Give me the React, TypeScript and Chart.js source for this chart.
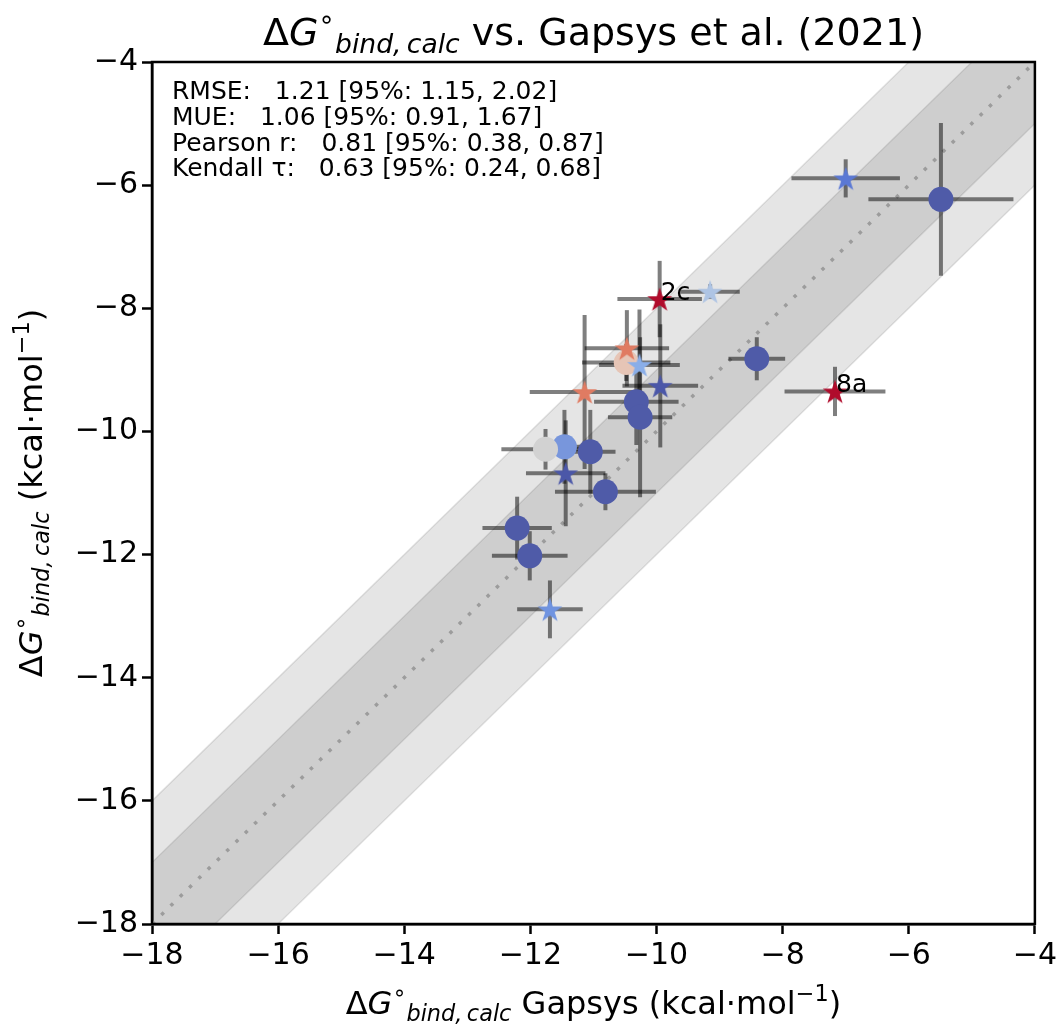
import React, { useEffect, useRef } from "react";
import { Chart, registerables } from "chart.js";

Chart.register(...registerables);

// ---- axis ----
const axisMin = -18;
const axisMax = -4;
const tickValues = [-18, -16, -14, -12, -10, -8, -6, -4];

// ---- ligands drawn as circles ----
const circleX = [-5.49, -8.41, -10.48, -10.32, -10.26, -11.05, -11.46, -11.76, -10.81, -12.21, -12.01];
const circleY = [-6.23, -8.82, -8.88, -9.52, -9.77, -10.33, -10.25, -10.29, -10.98, -11.57, -12.02];
const circleXErr = [1.15, 0.45, 0.7, 0.67, 0.51, 0.4, 0.3, 0.7, 0.8, 0.55, 0.6];
const circleYErr = [1.24, 0.35, 0.3, 0.7, 1.3, 0.68, 0.6, 0.33, 0.3, 0.51, 0.4];
const circleColors = ["#4f5ba8", "#4f5ba8", "#e6c5b6", "#4f5ba8", "#4f5ba8", "#4f5ba8", "#7896dc", "#d2d2d2", "#4f5ba8", "#4f5ba8", "#4f5ba8"];

// ---- ligands drawn as stars ----
const starX = [-7.0, -9.95, -9.15, -10.47, -10.27, -9.94, -11.14, -11.44, -11.69, -7.17];
const starY = [-5.89, -7.85, -7.73, -8.65, -8.92, -9.26, -9.36, -10.68, -12.89, -9.35];
const starXErr = [0.86, 0.67, 0.47, 0.67, 0.64, 0.6, 0.87, 0.63, 0.52, 0.8];
const starYErr = [0.31, 0.62, 0.12, 0.62, 0.9, 1.0, 1.25, 0.86, 0.47, 0.4];
const starColors = ["#5a78d4", "#b00c2c", "#aec4e4", "#e07b62", "#8aaee8", "#4b57a8", "#e07b62", "#4b57a8", "#6f93e0", "#b00c2c"];
const starLabels = ["", "2c", "", "", "", "", "", "", "", "8a"];

// ---- statistics box ----
const statsLines = [
  "RMSE:   1.21 [95%: 1.15, 2.02]",
  "MUE:   1.06 [95%: 0.91, 1.67]",
  "Pearson r:   0.81 [95%: 0.38, 0.87]",
  "Kendall \u03c4:   0.63 [95%: 0.24, 0.68]",
];

const titleRest = " vs. Gapsys et al. (2021)";
const xLabelRest = " Gapsys (kcal\u00b7mol";
const yLabelRest = " (kcal\u00b7mol";

const FONT = '"DejaVu Sans", sans-serif';

type Run = { t: string; s: number; it?: boolean; dy?: number };

function fontOf(r: Run) {
  return `${r.it ? "oblique " : ""}${r.s}px ${FONT}`;
}

function drawRuns(ctx: CanvasRenderingContext2D, runs: Run[], x: number, y: number, align: "left" | "center") {
  let w = 0;
  for (const r of runs) {
    ctx.font = fontOf(r);
    w += ctx.measureText(r.t).width;
  }
  let cx = align === "center" ? x - w / 2 : x;
  ctx.textAlign = "left";
  ctx.textBaseline = "alphabetic";
  for (const r of runs) {
    ctx.font = fontOf(r);
    ctx.fillText(r.t, cx, y + (r.dy || 0));
    cx += ctx.measureText(r.t).width;
  }
}

function deltaG(S: number): Run[] {
  return [
    { t: "\u0394", s: S },
    { t: "G", s: S, it: true },
    { t: "\u2218", s: S * 0.7, dy: -S * 0.45 },
    { t: "bind,\u2009calc", s: S * 0.7, it: true, dy: S * 0.22 },
  ];
}

function unitTail(S: number): Run[] {
  return [
    { t: "\u22121", s: S * 0.7, dy: -S * 0.42 },
    { t: ")", s: S },
  ];
}

function makeStar(color: string, R: number): HTMLCanvasElement {
  const size = Math.ceil(R * 2 + 4);
  const c = document.createElement("canvas");
  c.width = size;
  c.height = size;
  const g = c.getContext("2d")!;
  const cx = size / 2;
  const cy = size / 2 + R * 0.1;
  const r = R * 0.381966;
  g.beginPath();
  for (let i = 0; i < 10; i++) {
    const rad = i % 2 === 0 ? R : r;
    const a = -Math.PI / 2 + (i * Math.PI) / 5;
    const px = cx + rad * Math.cos(a);
    const py = cy + rad * Math.sin(a);
    if (i === 0) g.moveTo(px, py);
    else g.lineTo(px, py);
  }
  g.closePath();
  g.fillStyle = color;
  g.fill();
  return c;
}

const fmtTick = (v: number) => (v < 0 ? "\u2212" + Math.abs(v) : String(v));

export default function App() {
  const ref = useRef<HTMLCanvasElement | null>(null);

  useEffect(() => {
    document.body.style.margin = "0";
    const canvas = ref.current!;
    const starImgs = starColors.map((c) => makeStar(c, 13));

    const band = (d: number) => [
      { x: axisMin, y: axisMin + d },
      { x: axisMax, y: axisMax + d },
    ];

    const CIRCLES = 5;

    const errorBars = {
      id: "errorBars",
      beforeDatasetDraw(chart: any, args: any) {
        if (args.index !== CIRCLES) return;
        const { ctx } = chart;
        const xs = chart.scales.x;
        const ys = chart.scales.y;
        ctx.save();
        ctx.strokeStyle = "rgba(0,0,0,0.5)";
        ctx.lineWidth = 4;
        ctx.lineCap = "butt";
        const seg = (x1: number, y1: number, x2: number, y2: number) => {
          ctx.beginPath();
          ctx.moveTo(xs.getPixelForValue(x1), ys.getPixelForValue(y1));
          ctx.lineTo(xs.getPixelForValue(x2), ys.getPixelForValue(y2));
          ctx.stroke();
        };
        const all = [
          [circleX, circleY, circleXErr, circleYErr],
          [starX, starY, starXErr, starYErr],
        ];
        for (const [X, Y, XE, YE] of all) {
          for (let i = 0; i < X.length; i++) {
            seg(X[i] - XE[i], Y[i], X[i] + XE[i], Y[i]);
            seg(X[i], Y[i] - YE[i], X[i], Y[i] + YE[i]);
          }
        }
        ctx.restore();
      },
    };

    const decorations = {
      id: "decorations",
      afterDraw(chart: any) {
        const { ctx, chartArea: a } = chart;
        const xs = chart.scales.x;
        const ys = chart.scales.y;
        ctx.save();
        // axes frame
        ctx.strokeStyle = "#000";
        ctx.lineWidth = 2.5;
        ctx.strokeRect(a.left, a.top, a.right - a.left, a.bottom - a.top);
        ctx.fillStyle = "#000";

        // point annotations
        ctx.font = `25px ${FONT}`;
        ctx.textAlign = "left";
        ctx.textBaseline = "alphabetic";
        starLabels.forEach((lab, i) => {
          if (!lab) return;
          ctx.fillText(lab, xs.getPixelForValue(starX[i]) + 1, ys.getPixelForValue(starY[i]) + 1);
        });

        // statistics
        ctx.font = `25px ${FONT}`;
        statsLines.forEach((line, i) => {
          ctx.fillText(line, a.left + 20, a.top + 37 + i * 25.8);
        });

        // title
        const TS = 38;
        drawRuns(ctx, [...deltaG(TS), { t: titleRest, s: TS }], (a.left + a.right) / 2, 45, "center");

        // x label
        const LS = 32;
        drawRuns(ctx, [...deltaG(LS), { t: xLabelRest, s: LS }, ...unitTail(LS)], (a.left + a.right) / 2, 1014, "center");

        // y label
        ctx.translate(42, (a.top + a.bottom) / 2);
        ctx.rotate(-Math.PI / 2);
        drawRuns(ctx, [...deltaG(LS), { t: yLabelRest, s: LS }, ...unitTail(LS)], 0, 0, "center");
        ctx.restore();
      },
    };

    const tickCfg = {
      color: "#000",
      font: { family: FONT, size: 30 },
      padding: 4,
      autoSkip: false,
      maxRotation: 0,
      callback: (v: any) => fmtTick(Number(v)),
    };
    const gridCfg = {
      drawOnChartArea: false,
      drawTicks: true,
      tickLength: 10,
      tickWidth: 2.5,
      tickColor: "#000",
    };

    const chart = new Chart(canvas, {
      type: "scatter",
      data: {
        datasets: [
          {
            type: "scatter",
            data: starX.map((x, i) => ({ x, y: starY[i] })),
            pointStyle: starImgs as any,
            pointRadius: 13,
            pointBorderWidth: 0,
            pointBackgroundColor: starColors,
            order: 0,
          } as any,
          {
            type: "line",
            data: band(2),
            borderColor: "rgba(0,0,0,0.1)",
            borderWidth: 1.5,
            pointRadius: 0,
            fill: false,
            order: 6,
          },
          {
            type: "line",
            data: band(-2),
            borderColor: "rgba(0,0,0,0.1)",
            borderWidth: 1.5,
            backgroundColor: "rgba(0,0,0,0.1)",
            pointRadius: 0,
            fill: 1,
            order: 5,
          },
          {
            type: "line",
            data: band(1),
            borderColor: "rgba(0,0,0,0.1)",
            borderWidth: 1.5,
            pointRadius: 0,
            fill: false,
            order: 4,
          },
          {
            type: "line",
            data: band(-1),
            borderColor: "rgba(0,0,0,0.1)",
            borderWidth: 1.5,
            backgroundColor: "rgba(0,0,0,0.1)",
            pointRadius: 0,
            fill: 3,
            order: 3,
          },
          {
            type: "scatter",
            data: circleX.map((x, i) => ({ x, y: circleY[i] })),
            pointStyle: "circle",
            pointRadius: 12.5,
            pointBorderWidth: 0,
            pointBackgroundColor: circleColors,
            pointBorderColor: "rgba(0,0,0,0)",
            order: 1,
          } as any,
          {
            type: "line",
            data: band(0),
            borderColor: "#9c9c9c",
            borderWidth: 3.5,
            borderDash: [3.5, 9.5],
            borderCapStyle: "butt",
            pointRadius: 0,
            fill: false,
            order: 2,
          } as any,
        ],
      },
      options: {
        responsive: false,
        animation: false,
        events: [],
        layout: { padding: { top: 62, right: 25, left: 0, bottom: 0 } },
        plugins: {
          legend: { display: false },
          tooltip: { enabled: false },
          title: { display: false },
        },
        scales: {
          x: {
            type: "linear",
            min: axisMin,
            max: axisMax,
            afterBuildTicks: (s: any) => {
              s.ticks = tickValues.map((value) => ({ value }));
            },
            afterFit: (s: any) => {
              s.height = 103;
            },
            ticks: tickCfg as any,
            grid: gridCfg as any,
            border: { display: true, color: "#000", width: 2.5 },
          },
          y: {
            type: "linear",
            min: axisMin,
            max: axisMax,
            afterBuildTicks: (s: any) => {
              s.ticks = tickValues.map((value) => ({ value }));
            },
            afterFit: (s: any) => {
              s.width = 152;
            },
            ticks: tickCfg as any,
            grid: gridCfg as any,
            border: { display: true, color: "#000", width: 2.5 },
          },
        },
      },
      plugins: [errorBars, decorations],
    } as any);

    return () => chart.destroy();
  }, []);

  return <canvas ref={ref} width={1061} height={1027} style={{ display: "block" }} />;
}
